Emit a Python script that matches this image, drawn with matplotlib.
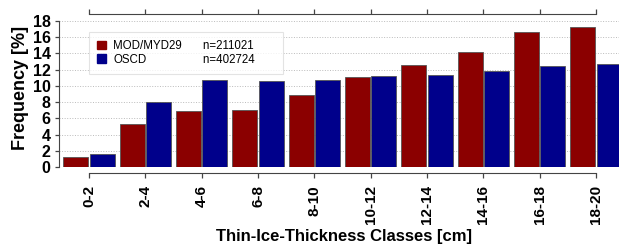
import matplotlib.pyplot as plt
import matplotlib.patches as mpatches
import numpy as np

plt.rcParams['font.family'] = ['Liberation Sans', 'DejaVu Sans']

classes = ['0-2', '2-4', '4-6', '6-8', '8-10', '10-12', '12-14', '14-16', '16-18', '18-20']
modis = [1.31, 5.28, 6.91, 7.0, 8.84, 11.05, 12.52, 14.16, 16.57, 17.23]
oscd = [1.6, 7.98, 10.68, 10.56, 10.72, 11.17, 11.29, 11.82, 12.44, 12.64]
names = ['MOD/MYD29', 'OSCD']
counts = ['n=211021', 'n=402724']

red = '#8b0000'
blue = '#00008b'

W, H = 619, 247
fig = plt.figure(figsize=(W / 100, H / 100), dpi=100)
ax = fig.add_axes([59 / W, (H - 167.3) / H, 1 - 59 / W, (167.3 - 20.7) / H])

x = np.arange(len(classes))
bw = 0.445
ax.bar(x - 0.235, modis, bw, color=red, edgecolor='#555555', linewidth=0.6, zorder=3)
ax.bar(x + 0.235, oscd, bw, color=blue, edgecolor='#555555', linewidth=0.6, zorder=3)

ax.set_xlim(-0.533, (W - 89) / 56.33)
ax.set_ylim(0, 18)
ax.set_yticks(np.arange(0, 19, 2))
ax.yaxis.grid(True, linestyle=':', color='#bbbbbb', linewidth=0.7, zorder=0)

ax.spines['right'].set_visible(False)
ax.spines['left'].set_color('#444444')
ax.spines['left'].set_bounds(0, 18)
ax.spines['bottom'].set_position(('outward', 4.3))
ax.spines['bottom'].set_bounds(0, 9)
ax.spines['bottom'].set_color('#444444')
ax.spines['top'].set_position(('outward', 5))
ax.spines['top'].set_bounds(0, 9)
ax.spines['top'].set_color('#444444')

ax.set_xticks(x)
ax.set_xticklabels(classes, rotation=90, fontweight='bold', fontsize=11)
ax.tick_params(axis='x', direction='out', length=3.6, width=0.9, color='#444444', pad=5,
               top=True, labeltop=False)
ax.tick_params(axis='y', direction='out', length=3, width=0.9, color='#444444', pad=3,
               labelsize=11.5)
for lab in ax.get_yticklabels():
    lab.set_fontweight('bold')

ax.set_ylabel('Frequency [%]', fontweight='bold', fontsize=13)
ax.yaxis.set_label_coords(-30 / (W - 59), 0.544)
ax.set_xlabel('Thin-Ice-Thickness Classes [cm]', fontweight='bold', fontsize=12)
ax.xaxis.set_label_coords((343.5 - 59) / (W - 59), (167.3 - 229) / 146.6)
ax.xaxis.label.set_va('top')

handles = [mpatches.Patch(color=red), mpatches.Patch(color=blue),
           mpatches.Patch(alpha=0), mpatches.Patch(alpha=0)]
leg = ax.legend(handles, names + [c + '      ' for c in counts], ncol=2, loc='upper left',
                bbox_to_anchor=((89 - 59) / (W - 59), (167.3 - 32) / (167.3 - 20.7)),
                fontsize=8.3, frameon=True, fancybox=False, edgecolor='#dddddd',
                handlelength=0.8, handleheight=0.8, handletextpad=0.6,
                columnspacing=0.45, borderpad=0.7, labelspacing=0.15, borderaxespad=0)
leg.get_frame().set_linewidth(0.8)
leg.set_zorder(5)

fig.savefig('out.png', dpi=100)
